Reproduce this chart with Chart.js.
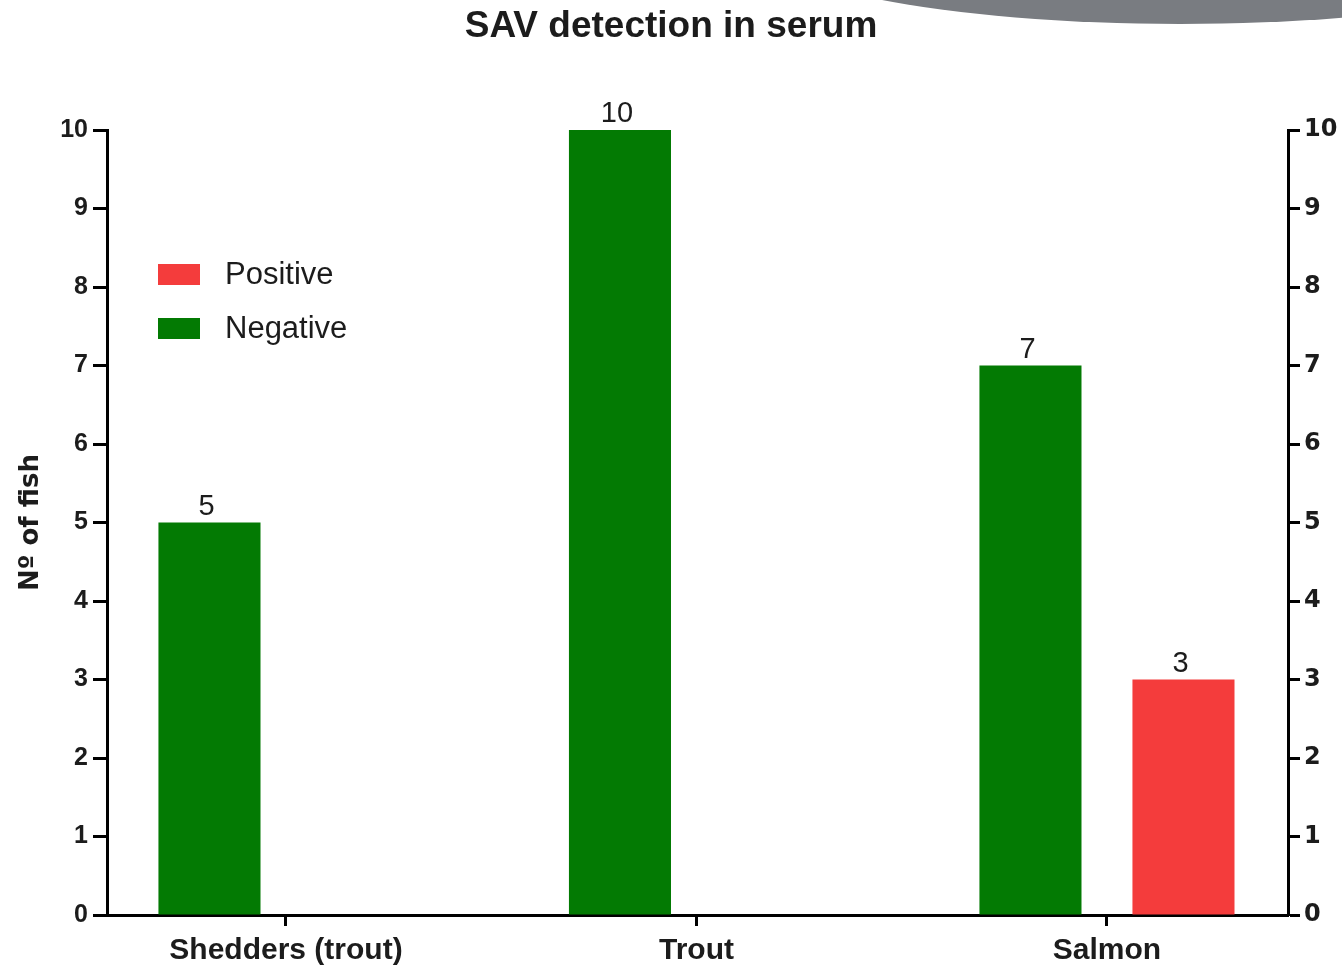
<!DOCTYPE html>
<html>
<head>
<meta charset="utf-8">
<title>SAV detection in serum</title>
<script src="https://cdn.jsdelivr.net/npm/chart.js@4.4.1/dist/chart.umd.min.js"></script>
<style>
html,body{margin:0;padding:0;background:#fff;}
canvas{display:block;}
</style>
</head>
<body>
<canvas id="chart" width="1342" height="966"></canvas>
<script>
/* SAV detection in serum - bar chart */
const categories = ['Shedders (trout)', 'Trout', 'Salmon'];
const negative = [5, 10, 7];
const positive = [0, 0, 3];
const yTicks = [0, 1, 2, 3, 4, 5, 6, 7, 8, 9, 10];

const GREEN = '#037a03';
const RED = '#f43c3c';
const INK = '#1c1c1c';

const toPoints = arr => arr.map((v, i) => ({x: i, y: v}));
const setTicks = vals => s => { s.ticks = vals.map(v => ({value: v})); };

// gray swoosh from the slide template, top right
const swoosh = {
  id: 'swoosh',
  beforeDraw(chart){
    const {ctx} = chart;
    ctx.save();
    ctx.fillStyle = '#797c81';
    ctx.beginPath();
    ctx.ellipse(1180, -62, 430, 86, 0, 0, Math.PI * 2);
    ctx.fill();
    ctx.restore();
  }
};

// numbers over the bars (zeros are not labelled)
const valueLabels = {
  id: 'valueLabels',
  afterDatasetsDraw(chart){
    const {ctx} = chart;
    ctx.save();
    ctx.font = '29px "Liberation Sans", Arial, sans-serif';
    ctx.fillStyle = INK;
    ctx.textAlign = 'center';
    ctx.textBaseline = 'alphabetic';
    chart.data.datasets.forEach((ds, di) => {
      chart.getDatasetMeta(di).data.forEach((bar, i) => {
        const v = ds.data[i].y;
        if (!v) return;
        ctx.fillText(String(v), bar.x - 3, bar.y - 8);
      });
    });
    ctx.restore();
  }
};

// legend inside the plot, Positive listed first
const insideLegend = {
  id: 'insideLegend',
  afterDraw(chart){
    const {ctx, chartArea} = chart;
    const x0 = chartArea.left + 51, y0 = chartArea.top + 134;
    const items = chart.data.datasets.slice().reverse();
    ctx.save();
    ctx.font = '31px "Liberation Sans", Arial, sans-serif';
    ctx.textBaseline = 'middle';
    ctx.textAlign = 'left';
    items.forEach((ds, i) => {
      const y = y0 + i * 54;
      ctx.fillStyle = ds.backgroundColor;
      ctx.fillRect(x0, y, 42, 21);
      ctx.fillStyle = INK;
      ctx.fillText(ds.label, x0 + 67, y + 11);
    });
    ctx.restore();
  }
};

const axisGrid = len => ({offset: false, drawOnChartArea: false, drawTicks: true, tickLength: len, tickWidth: 3, tickColor: '#000', color: '#000'});
const axisBorder = {display: true, color: '#000', width: 3};

new Chart(document.getElementById('chart'), {
  type: 'bar',
  data: {
    datasets: [
      {label: 'Negative', data: toPoints(negative), backgroundColor: GREEN, borderWidth: 0},
      {label: 'Positive', data: toPoints(positive), backgroundColor: RED, borderWidth: 0}
    ]
  },
  options: {
    responsive: false,
    animation: false,
    categoryPercentage: 0.7455,
    barPercentage: 0.667,
    layout: {padding: 0},
    plugins: {
      legend: {display: false},
      tooltip: {enabled: false},
      title: {
        display: true,
        text: 'SAV detection in serum',
        color: INK,
        font: {family: '"Liberation Sans", Arial, sans-serif', weight: 'bold', size: 37},
        padding: {top: 5, bottom: 80.6}
      }
    },
    scales: {
      x: {
        type: 'linear',
        min: -0.436, max: 2.441,
        offset: false,
        afterBuildTicks: setTicks([0, 1, 2]),
        afterFit: s => { s.height = 51; },
        ticks: {
          callback: v => categories[v],
          autoSkip: false, maxRotation: 0,
          color: INK, padding: 7,
          font: {family: '"Liberation Sans", Arial, sans-serif', weight: 'bold', size: 30}
        },
        grid: axisGrid(11),
        border: axisBorder
      },
      y: {
        position: 'left',
        min: 0, max: 10,
        afterBuildTicks: setTicks(yTicks),
        afterFit: s => { s.width = 107; },
        ticks: {color: INK, padding: 5, font: {family: '"Liberation Sans", Arial, sans-serif', weight: 'bold', size: 25}},
        grid: axisGrid(14),
        border: axisBorder,
        title: {
          display: true,
          text: 'Nº of fish',
          color: INK,
          font: {family: '"DejaVu Sans", sans-serif', weight: 'bold', size: 26},
          padding: {top: 16, bottom: 0}
        }
      },
      y2: {
        position: 'right',
        min: 0, max: 10,
        afterBuildTicks: setTicks(yTicks),
        afterFit: s => { s.width = 54; },
        ticks: {color: INK, padding: 4, font: {family: '"DejaVu Sans", sans-serif', weight: 'bold', size: 24}},
        grid: axisGrid(12),
        border: axisBorder
      }
    }
  },
  plugins: [swoosh, valueLabels, insideLegend]
});
</script>
</body>
</html>
